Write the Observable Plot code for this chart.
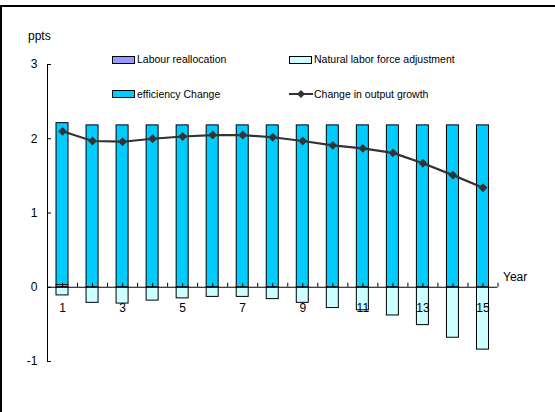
<!DOCTYPE html>
<html>
<head>
<meta charset="utf-8">
<script src="https://cdn.jsdelivr.net/npm/d3@7"></script>
<script src="https://cdn.jsdelivr.net/npm/@observablehq/plot@0.6"></script>
<style>
  html, body { margin: 0; padding: 0; background: #fff; }
  body { font-family: "Liberation Sans", Arial, sans-serif; }
  #wrap { position: relative; width: 555px; height: 412px; overflow: hidden; }
  #frame { position: absolute; left: 0; top: 5px; width: 560px; height: 420px;
           border-top: 2px solid #000; border-left: 2px solid #000; box-sizing: border-box; }
  #chart { position: absolute; left: 0; top: 0; }
  .leg { position: absolute; font-size: 10.5px; color: #000; white-space: nowrap; line-height: 12px; }
  .sw { position: absolute; width: 21px; height: 6px; border: 1px solid #000; }
</style>
</head>
<body>
<div id="wrap">
  <div id="frame"></div>
  <div id="chart"></div>
  <div id="legend"></div>
</div>
<script>
// ---- data ----
const years = [1, 2, 3, 4, 5, 6, 7, 8, 9, 10, 11, 12, 13, 14, 15];
const labourReallocation = [0.03, 0, 0, 0, 0, 0, 0, 0, 0, 0, 0, 0, 0, 0, 0];
const efficiencyChange = [2.18, 2.18, 2.18, 2.18, 2.18, 2.18, 2.18, 2.18, 2.18, 2.18, 2.18, 2.18, 2.18, 2.18, 2.18];
const naturalLaborForce = [-0.11, -0.21, -0.22, -0.18, -0.15, -0.13, -0.13, -0.16, -0.21, -0.28, -0.31, -0.38, -0.51, -0.68, -0.84];
const outputGrowth = [2.10, 1.97, 1.96, 2.00, 2.03, 2.05, 2.05, 2.02, 1.97, 1.91, 1.87, 1.81, 1.67, 1.51, 1.34];
const xTickLabels = [1, 3, 5, 7, 9, 11, 13, 15];
const yTicks = [-1, 0, 1, 2, 3];
const seriesNames = ["Labour reallocation", "Natural labor force adjustment", "efficiency Change", "Change in output growth"];
const seriesColors = ["#9999FF", "#CCFFFF", "#00CCFF", "#333333"];
const yLabel = "ppts";
const xLabel = "Year";

// ---- build rows ----
const rows = years.map((yr, i) => ({
  year: yr,
  lab1: 0, lab2: labourReallocation[i],
  eff1: labourReallocation[i], eff2: labourReallocation[i] + efficiencyChange[i],
  nat1: 0, nat2: naturalLaborForce[i],
  out: outputGrowth[i]
}));
const halfTicks = d3.range(0, 31).map(k => 0.5 + k * 0.5);
const barHalf = 0.2;

const plot = Plot.plot({
  width: 555,
  height: 412,
  marginLeft: 47,
  marginRight: 57.5,
  marginTop: 64,
  marginBottom: 51,
  x: { domain: [0.5, 15.5], axis: null },
  y: { domain: [-1, 3], axis: null },
  style: { fontFamily: "'Liberation Sans', Arial, sans-serif", fontSize: "12px", color: "#000", background: "transparent" },
  marks: [
    Plot.rectY(rows, { x1: d => d.year - barHalf, x2: d => d.year + barHalf, y1: "nat1", y2: "nat2", fill: seriesColors[1], stroke: "#000", strokeWidth: 1 }),
    Plot.rectY(rows.filter(d => d.lab2 !== 0), { x1: d => d.year - barHalf, x2: d => d.year + barHalf, y1: "lab1", y2: "lab2", fill: seriesColors[0], stroke: "#000", strokeWidth: 1 }),
    Plot.rectY(rows, { x1: d => d.year - barHalf, x2: d => d.year + barHalf, y1: "eff1", y2: "eff2", fill: seriesColors[2], stroke: "#000", strokeWidth: 1 }),
    // axes lines
    Plot.ruleY([0], { stroke: "#000", strokeWidth: 1 }),
    Plot.ruleX([0.5], { stroke: "#000", strokeWidth: 1 }),
    // x ticks (inside, pointing up)
    Plot.ruleX(halfTicks, { x: d => d, y1: () => 0, y2: () => 0, insetTop: -4, stroke: "#000", strokeWidth: 1 }),
    // y ticks (inside, pointing right)
    Plot.ruleY(yTicks, { y: d => d, x1: () => 0.5, x2: () => 0.5, insetRight: -4, stroke: "#000", strokeWidth: 1 }),
    // tick labels
    Plot.text(xTickLabels, { x: d => d, y: () => 0, dy: 20.7, text: d => String(d), fill: "#000", fontSize: 12 }),
    Plot.text(yTicks, { x: () => 0.5, y: d => d, dx: -10, textAnchor: "end", text: d => String(d), fill: "#000", fontSize: 12 }),
    // line
    Plot.line(rows, { x: "year", y: "out", stroke: "#333", strokeWidth: 2.2 }),
    Plot.dot(rows, { x: "year", y: "out", symbol: "diamond2", r: 4, fill: "#333", stroke: "none" }),
    // axis titles
    Plot.text([yLabel], { frameAnchor: "top-left", dx: -19.5, dy: -33, textAnchor: "start", fill: "#000", fontSize: 12 }),
    Plot.text([xLabel], { x: () => 15.5, y: () => 0, dx: 5, dy: -10, textAnchor: "start", fill: "#000", fontSize: 12 })
  ]
});
document.getElementById("chart").appendChild(plot);

// ---- legend ----
const legend = document.getElementById("legend");
const legPos = [
  { x: 112, y: 55.5 },
  { x: 289, y: 55.5 },
  { x: 112, y: 90 },
  { x: 289, y: 90 }
];
seriesNames.forEach((name, i) => {
  const p = legPos[i];
  if (i < 3) {
    const sw = document.createElement("div");
    sw.className = "sw";
    sw.style.left = p.x + "px";
    sw.style.top = p.y + "px";
    sw.style.background = seriesColors[i];
    legend.appendChild(sw);
  } else {
    const svgNS = "http://www.w3.org/2000/svg";
    const s = document.createElementNS(svgNS, "svg");
    s.setAttribute("width", 26); s.setAttribute("height", 12);
    s.style.position = "absolute"; s.style.left = p.x + "px"; s.style.top = (p.y - 2) + "px";
    const l = document.createElementNS(svgNS, "line");
    l.setAttribute("x1", 0); l.setAttribute("x2", 24); l.setAttribute("y1", 6); l.setAttribute("y2", 6);
    l.setAttribute("stroke", seriesColors[3]); l.setAttribute("stroke-width", 2);
    s.appendChild(l);
    const d = document.createElementNS(svgNS, "path");
    d.setAttribute("d", "M12,2L16,6L12,10L8,6Z");
    d.setAttribute("fill", seriesColors[3]);
    s.appendChild(d);
    legend.appendChild(s);
  }
  const t = document.createElement("div");
  t.className = "leg";
  t.textContent = name;
  t.style.left = (p.x + 25) + "px";
  t.style.top = (p.y - 2.5) + "px";
  legend.appendChild(t);
});
</script>
</body>
</html>
